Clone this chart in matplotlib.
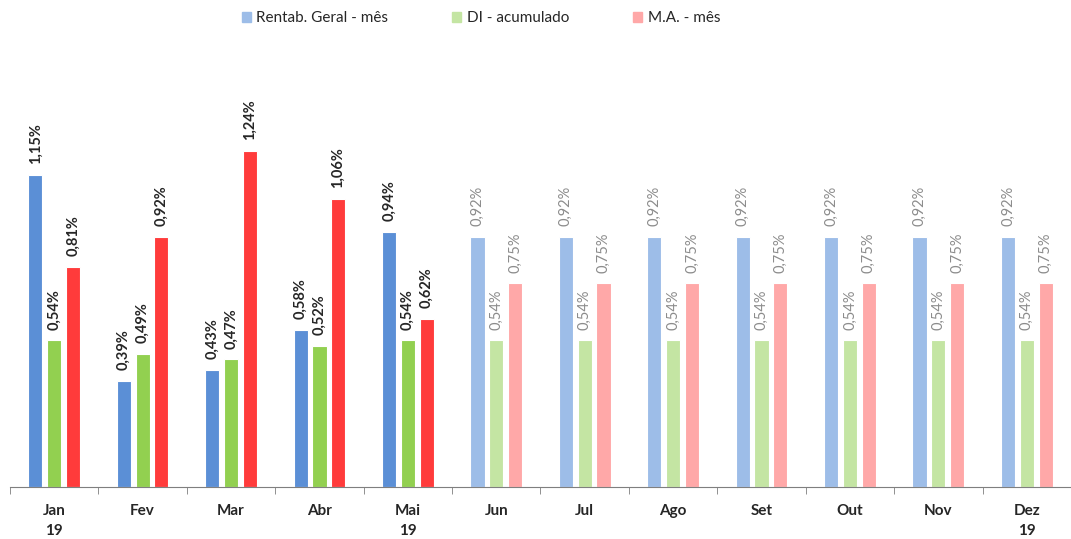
import matplotlib.pyplot as plt
import numpy as np

plt.rcParams['font.family'] = ['Lato', 'DejaVu Sans']

meses = ['Jan\n19', 'Fev', 'Mar', 'Abr', 'Mai\n19', 'Jun', 'Jul', 'Ago', 'Set', 'Out', 'Nov', 'Dez\n19']
rentab = [1.15, 0.39, 0.43, 0.58, 0.94, 0.92, 0.92, 0.92, 0.92, 0.92, 0.92, 0.92]
di = [0.54, 0.49, 0.47, 0.52, 0.54, 0.54, 0.54, 0.54, 0.54, 0.54, 0.54, 0.54]
ma = [0.81, 0.92, 1.24, 1.06, 0.62, 0.75, 0.75, 0.75, 0.75, 0.75, 0.75, 0.75]
realizado = 5  # months with actual values; the rest are projections

cores = ['#5B8FD6', '#92D050', '#FF3B3B']
cores_proj = ['#9DBDE8', '#C4E5A3', '#FFA8A8']
nomes = ['Rentab. Geral - mês', 'DI - acumulado', 'M.A. - mês']

fig = plt.figure(figsize=(10.71, 5.39), dpi=100)
ax = fig.add_axes([0.0093, 0.0965, 0.9907, 0.73])

x = np.arange(len(meses))
w = 0.16
passo = 0.213

for i, serie in enumerate([rentab, di, ma]):
    pos = x + (i - 1) * passo
    cols = [cores[i] if k < realizado else cores_proj[i] for k in range(len(meses))]
    ax.bar(pos, serie, width=w, color=cols, edgecolor='white', linewidth=0.8,
           label=nomes[i])
    for k, v in enumerate(serie):
        txt = f'{v:.2f}'.replace('.', ',') + '%'
        ax.text(pos[k], v + 0.04, txt, rotation=90, ha='center', va='bottom',
                fontsize=10.5, fontweight='bold' if k < realizado else 'normal',
                color='#262626' if k < realizado else '#8C8C8C')

ax.set_xlim(-0.47, len(meses) - 0.5)
ax.set_ylim(0, 1.45)
ax.set_xticks(x)
ax.set_xticklabels(meses, fontsize=11, fontweight='bold', color='#262626',
                   linespacing=1.55)
ax.set_xticks(np.arange(-0.5, len(meses)), minor=True)
ax.tick_params(axis='x', which='major', length=0, pad=12)
ax.tick_params(axis='x', which='minor', length=5, color='#7F7F7F', direction='out')
ax.set_yticks([])
for s in ['top', 'right', 'left']:
    ax.spines[s].set_visible(False)
ax.spines['bottom'].set_color('#7F7F7F')

handles = [plt.Rectangle((0, 0), 1, 1, color=c) for c in cores_proj]
fig.legend(handles, nomes, loc='upper center', bbox_to_anchor=(0.449, 1.005), ncol=3,
           frameon=False, fontsize=11, handlelength=0.6, handleheight=0.6,
           handletextpad=0.35, columnspacing=4.2, labelcolor='#262626')

fig.savefig('out.png', dpi=100)
